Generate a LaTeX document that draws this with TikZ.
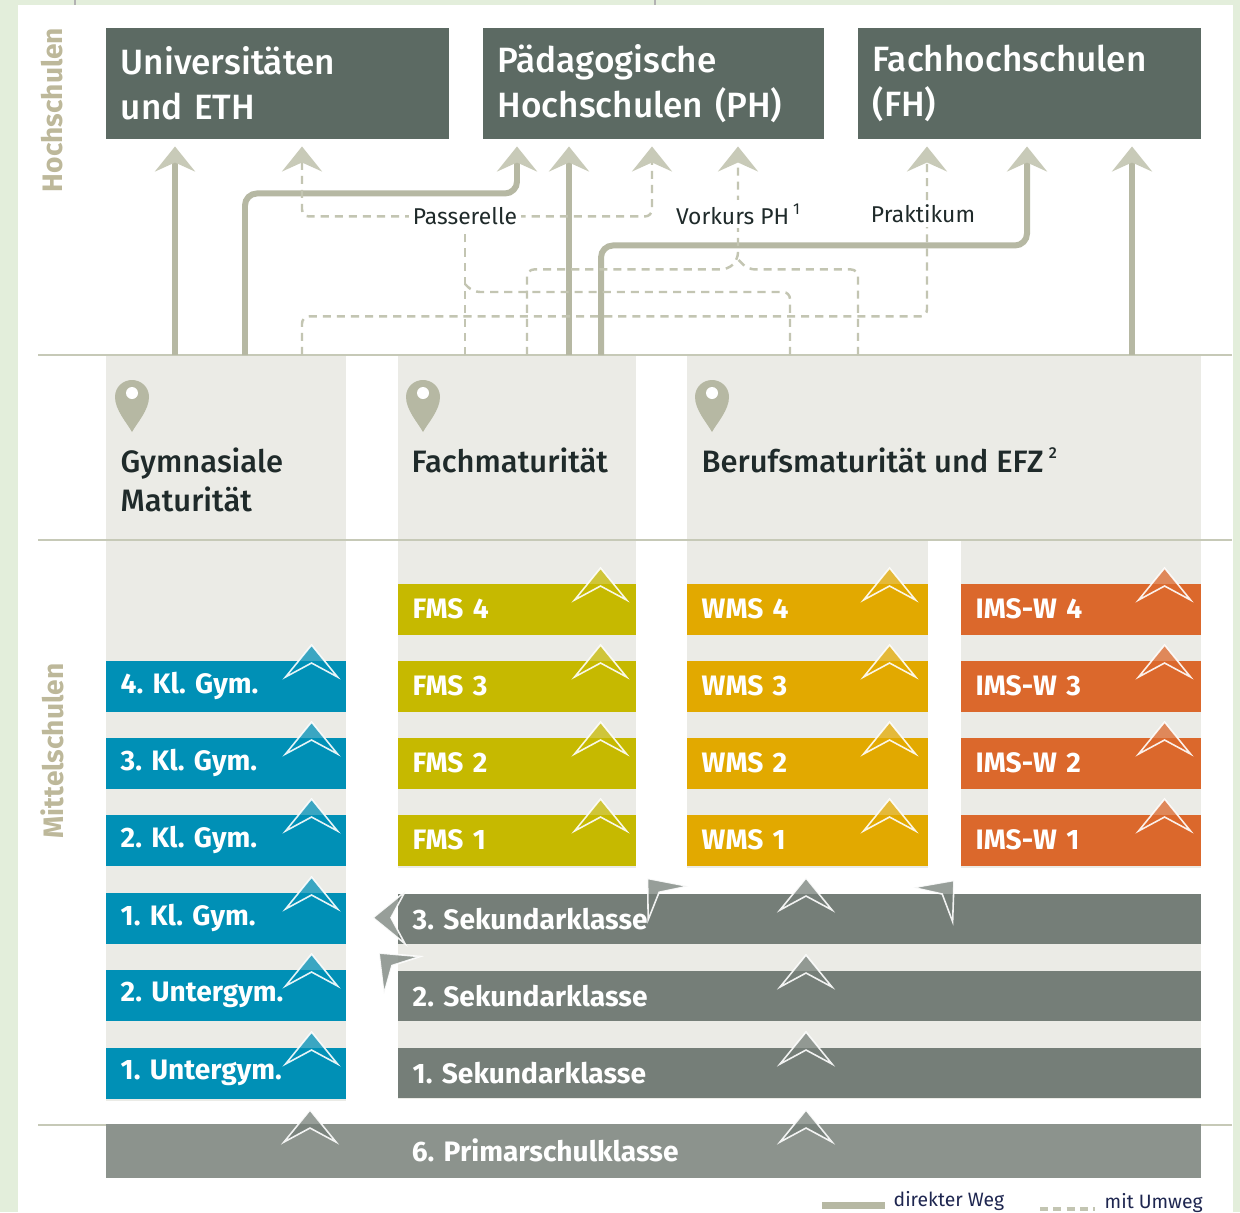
\documentclass[tikz,border=0pt]{standalone}
\usepackage{fontspec}
\setmainfont{Fira Sans}
\newfontfamily\firamed{Fira Sans Medium}
\frenchspacing
\usetikzlibrary{positioning,calc,arrows.meta}

\definecolor{rahmen}{RGB}{227,238,219}
\definecolor{titel}{RGB}{92,106,99}
\definecolor{weg}{RGB}{182,184,163}
\definecolor{spitze}{RGB}{200,202,184}
\definecolor{umweg}{RGB}{195,197,178}
\definecolor{feld}{RGB}{235,235,230}
\definecolor{trenn}{RGB}{198,201,183}
\definecolor{gym}{RGB}{0,144,182}
\definecolor{fms}{RGB}{198,185,0}
\definecolor{wms}{RGB}{226,169,0}
\definecolor{ims}{RGB}{219,104,44}
\definecolor{sek}{RGB}{117,126,120}
\definecolor{prim}{RGB}{140,147,141}
\definecolor{seite}{RGB}{189,184,154}
\definecolor{schrift}{RGB}{31,42,42}
\definecolor{legende}{RGB}{30,38,80}

% chevron on a box: position of the tip, angle, colour
\newcommand\chev[3]{\filldraw[chevron,fill=#3,shift={#1},rotate=#2] (0,0) -- (-26,32) -- (0,18) -- (26,32) -- cycle;}
% map pin: position of the tip
\newcommand\pin[1]{\fill[weg,shift={#1}] (0,0) .. controls (-5,-9) and (-17,-22) .. (-17,-35) .. controls (-17,-45) and (-9,-52) .. (0,-52) .. controls (9,-52) and (17,-45) .. (17,-35) .. controls (17,-22) and (5,-9) .. (0,0) -- cycle;
	\fill[white,shift={#1}] (0,-39) circle (6);}
% small footnote mark
\newcommand\fnmark[1]{\raisebox{0.45em}{\fontsize{4.5}{5}\selectfont #1}}

\tikzset{
	titelbox/.style={fill=titel,text=white,anchor=north west,minimum height=1.11cm,inner xsep=0.15cm,text width=3.13cm,align=left,font=\firamed\fontsize{10}{12.8}\selectfont},
	feldbox/.style={fill=feld,anchor=north west,inner sep=0},
	klasse/.style={anchor=north west,minimum height=0.51cm,inner xsep=0.15cm,inner ysep=0,text width=2.1cm,align=left,text=white,font=\bfseries\fontsize{8}{9}\selectfont},
	kopf/.style={anchor=north west,inner sep=0,align=left,text=schrift,font=\firamed\fontsize{8.8}{11}\selectfont},
	wegtext/.style={fill=white,inner xsep=1pt,inner ysep=1pt,text=schrift,font=\fontsize{6.5}{7}\selectfont},
	seitentext/.style={rotate=90,text=seite,font=\bfseries\fontsize{8}{9}\selectfont},
	legtext/.style={anchor=west,inner sep=0,text=legende,font=\fontsize{5.5}{6}\selectfont},
	direkt/.style={draw=weg,line width=1.7pt,rounded corners=3.4pt},
	umwegline/.style={draw=umweg,line width=0.7pt,dash pattern=on 2.3pt off 1.7pt,rounded corners=2pt},
	trennlinie/.style={draw=trenn,line width=0.7pt},
	chevron/.style={draw=white,line width=0.45pt,fill opacity=0.75,draw opacity=0.9}
}

\begin{document}
\begin{tikzpicture}[x=0.01cm,y=-0.01cm,>={Stealth[length=0.25cm,width=0.4cm,inset=0.09cm,color=spitze]}]

	\useasboundingbox (0,0) rectangle (1240,1212);
	\fill[rahmen] (0,0) rectangle (1240,1212);
	\fill[white] (18,5) rectangle (1233,1212);
	\draw[black!30,line width=0.3pt] (75,0) -- (75,5) (655,0) -- (655,5);

	% Hochschulen
	\node[titelbox] (uni) at (105,27) {Universitäten\\und ETH};
	\node[titelbox,text width=3.11cm] (ph) at (482,27) {Pädagogische\\Hochschulen (PH)};
	\node[titelbox] (fh) at (857,27) {Fachhochschulen\\(FH)};
	\node[seitentext] (hs) at (52,110) {Hochschulen};

	% columns
	\node[feldbox,minimum width=2.4cm,minimum height=7.45cm] (gmcol) at (105,355) {};
	\node[feldbox,minimum width=2.38cm,minimum height=5.12cm] (fmcol) at (397,355) {};
	\node[feldbox,minimum width=5.14cm,minimum height=1.85cm] (bmcol) at (686,355) {};
	\node[feldbox,minimum width=2.41cm,minimum height=3.27cm] (wcol) at (686,540) {};
	\node[feldbox,minimum width=2.4cm,minimum height=3.27cm] (icol) at (960,540) {};
	\node[feldbox,minimum width=8.03cm,minimum height=2.05cm] (sekcol) at (397,893) {};

	\draw[trennlinie] (38,355) -- (1232,355);
	\draw[trennlinie] (38,540) -- (1232,540);
	\draw[trennlinie] (38,1125) -- (1232,1125);

	% Maturitaet
	\node[kopf] (gm) at (120,447) {Gymnasiale\\Maturität};
	\node[kopf] (fm) at (411,447) {Fachmaturität};
	\node[kopf] (bm) at (701,447) {Berufsmaturität und EFZ\,\fnmark{2}};
	\pin{($(gm.north west)+(12,-15)$)}
	\pin{($(fm.north west)+(12,-15)$)}
	\pin{($(bm.north west)+(11,-15)$)}

	% Mittelschulen
	\node[seitentext] (ms) at (52,751) {Mittelschulen};
	\node[klasse,fill=gym] (g4) at (105,660) {4. Kl. Gym.};
	\node[klasse,fill=gym] (g3) at (105,737) {3. Kl. Gym.};
	\node[klasse,fill=gym] (g2) at (105,814) {2. Kl. Gym.};
	\node[klasse,fill=gym] (g1) at (105,892) {1. Kl. Gym.};
	\node[klasse,fill=gym] (u2) at (105,969) {2. Untergym.};
	\node[klasse,fill=gym] (u1) at (105,1047) {1. Untergym.};

	\node[klasse,fill=fms,text width=2.08cm] (f4) at (397,583) {FMS 4};
	\node[klasse,fill=fms,text width=2.08cm] (f3) at (397,660) {FMS 3};
	\node[klasse,fill=fms,text width=2.08cm] (f2) at (397,737) {FMS 2};
	\node[klasse,fill=fms,text width=2.08cm] (f1) at (397,814) {FMS 1};

	\node[klasse,fill=wms,text width=2.11cm] (w4) at (686,583) {WMS 4};
	\node[klasse,fill=wms,text width=2.11cm] (w3) at (686,660) {WMS 3};
	\node[klasse,fill=wms,text width=2.11cm] (w2) at (686,737) {WMS 2};
	\node[klasse,fill=wms,text width=2.11cm] (w1) at (686,814) {WMS 1};

	\node[klasse,fill=ims] (i4) at (960,583) {IMS-W 4};
	\node[klasse,fill=ims] (i3) at (960,660) {IMS-W 3};
	\node[klasse,fill=ims] (i2) at (960,737) {IMS-W 2};
	\node[klasse,fill=ims] (i1) at (960,814) {IMS-W 1};

	\node[klasse,fill=sek,text width=7.73cm,minimum height=0.5cm] (s3) at (397,893) {3. Sekundarklasse};
	\node[klasse,fill=sek,text width=7.73cm,minimum height=0.5cm] (s2) at (397,970) {2. Sekundarklasse};
	\node[klasse,fill=sek,text width=7.73cm,minimum height=0.5cm] (s1) at (397,1047) {1. Sekundarklasse};
	\node[klasse,fill=prim,text width=10.65cm,minimum height=0.54cm] (p6) at (105,1123) {\hspace*{2.91cm}6. Primarschulklasse};

	% direkter Weg
	\draw[direkt,->] ($(gmcol.north west)+(70,0)$) -- ($(uni.south west)+(70,7)$);
	\draw[direkt,->] ($(gmcol.north west)+(140,0)$) |- ($(ph.south west)+(35,54)$) -- ($(ph.south west)+(35,7)$);
	\draw[direkt,->] ($(fmcol.north west)+(172,0)$) -- ($(ph.south west)+(87,7)$);
	\draw[direkt,->] ($(fmcol.north west)+(204,0)$) |- ($(fh.south west)+(170,106)$) -- ($(fh.south west)+(170,7)$);
	\draw[direkt,->] ($(bmcol.north west)+(446,0)$) -- ($(fh.south west)+(275,7)$);

	% mit Umweg
	\draw[umwegline,<->] ($(uni.south west)+(197,7)$) |- ($(ph.south west)+(170,77)$) -- ($(ph.south west)+(170,7)$);
	\draw[umwegline] ($(fmcol.north west)+(68,0)$) -- ($(fmcol.north west)+(68,-140)$);
	\draw[umwegline] ($(bmcol.north west)+(104,0)$) |- ($(fmcol.north west)+(76,-63)$) -- ($(fmcol.north west)+(68,-71)$);
	\draw[umwegline,->] ($(fmcol.north west)+(130,0)$) |- ($(ph.south west)+(246,130)$) -- ($(ph.south west)+(256,120)$) -- ($(ph.south west)+(256,7)$);
	\draw[umwegline] ($(bmcol.north west)+(172,0)$) |- ($(ph.south west)+(266,130)$) -- ($(ph.south west)+(256,120)$);
	\draw[umwegline,->] ($(gmcol.north west)+(197,0)$) |- ($(fh.south west)+(70,177)$) -- ($(fh.south west)+(70,7)$);

	\node[wegtext] (pass) at (465,216) {Passerelle};
	\node[wegtext] (vork) at (738,214) {Vorkurs PH\,\fnmark{1}};
	\node[wegtext] (prak) at (923,214) {Praktikum};

	% chevrons
	\chev{($(g4.north east)+(-35,-15)$)}{0}{gym}
	\chev{($(g3.north east)+(-35,-15)$)}{0}{gym}
	\chev{($(g2.north east)+(-35,-15)$)}{0}{gym}
	\chev{($(g1.north east)+(-35,-15)$)}{0}{gym}
	\chev{($(u2.north east)+(-35,-15)$)}{0}{gym}
	\chev{($(u1.north east)+(-35,-15)$)}{0}{gym}
	\chev{($(f4.north east)+(-36,-15)$)}{0}{fms}
	\chev{($(f3.north east)+(-36,-15)$)}{0}{fms}
	\chev{($(f2.north east)+(-36,-15)$)}{0}{fms}
	\chev{($(f1.north east)+(-36,-15)$)}{0}{fms}
	\chev{($(w4.north east)+(-39,-15)$)}{0}{wms}
	\chev{($(w3.north east)+(-39,-15)$)}{0}{wms}
	\chev{($(w2.north east)+(-39,-15)$)}{0}{wms}
	\chev{($(w1.north east)+(-39,-15)$)}{0}{wms}
	\chev{($(i4.north east)+(-37,-15)$)}{0}{ims}
	\chev{($(i3.north east)+(-37,-15)$)}{0}{ims}
	\chev{($(i2.north east)+(-37,-15)$)}{0}{ims}
	\chev{($(i1.north east)+(-37,-15)$)}{0}{ims}
	\chev{($(s3.north west)+(409,-15)$)}{0}{sek}
	\chev{($(s2.north west)+(409,-15)$)}{0}{sek}
	\chev{($(s1.north west)+(409,-15)$)}{0}{sek}
	\chev{($(p6.north west)+(205,-13)$)}{0}{sek}
	\chev{($(p6.north west)+(701,-13)$)}{0}{sek}
	\chev{($(f1.south east)+(11,12)$)}{40}{sek}
	\chev{($(i1.south west)+(-6,14)$)}{-41}{sek}
	\chev{($(s3.west)+(-24,-1)$)}{90}{sek}
	\chev{($(s2.north west)+(-18,-17)$)}{46}{sek}

	% legend
	\draw[weg,line width=2pt] (822,1205) -- (885,1205);
	\node[legtext] (ldir) at (893,1201) {direkter Weg};
	\draw[umweg,line width=0.9pt,dash pattern=on 2.3pt off 1.5pt] (1040,1209) -- (1095,1209);
	\node[legtext] (lum) at (1104,1203) {mit Umweg};

\end{tikzpicture}
\end{document}
